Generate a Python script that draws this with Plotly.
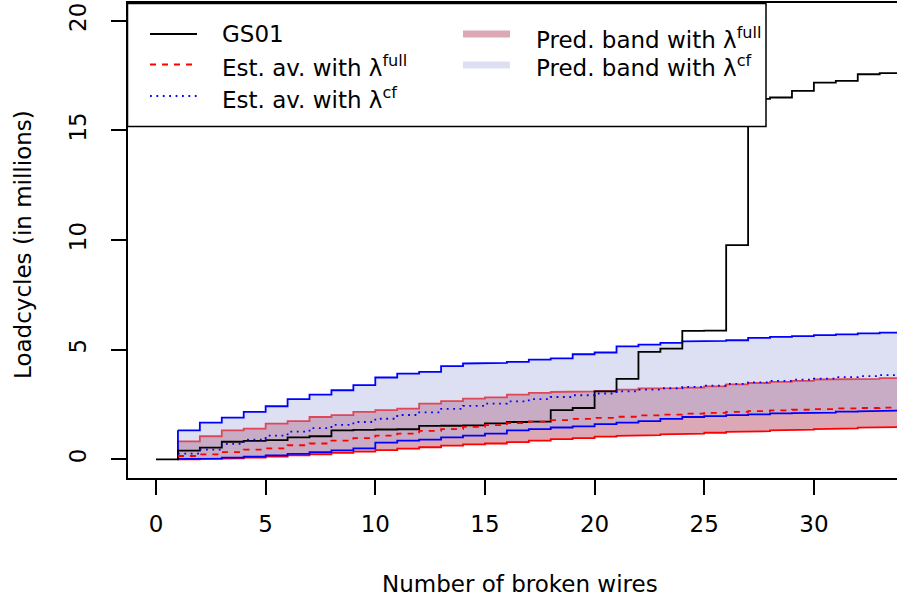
import plotly.graph_objects as go

# ---------------- data ----------------
wires = list(range(0, 35))
gs01 = [0.00, 0.40, 0.53, 0.80, 0.84, 0.87, 1.00, 1.05, 1.32, 1.34,
        1.36, 1.37, 1.52, 1.53, 1.55, 1.64, 1.70, 1.72, 2.24, 2.34,
        3.10, 3.67, 4.90, 5.05, 5.86, 5.87, 9.77, 16.44, 16.50, 16.80,
        17.18, 17.26, 17.56, 17.61, 17.61]

k = list(range(1, 35))
full_upper = [0.82, 1.05, 1.32, 1.40, 1.63, 1.74, 1.93, 2.01, 2.16, 2.24,
              2.31, 2.54, 2.65, 2.77, 2.82, 2.95, 3.03, 3.07, 3.10, 3.12,
              3.18, 3.23, 3.25, 3.27, 3.33, 3.42, 3.48, 3.53, 3.58, 3.64,
              3.65, 3.67, 3.70, 3.70]
full_lower = [0.00, 0.02, 0.04, 0.08, 0.12, 0.18, 0.23, 0.29, 0.35, 0.42,
              0.49, 0.55, 0.62, 0.68, 0.72, 0.78, 0.85, 0.92, 0.97, 1.03,
              1.07, 1.10, 1.14, 1.17, 1.21, 1.25, 1.28, 1.32, 1.35, 1.38,
              1.41, 1.44, 1.47, 1.47]
cf_upper = [1.32, 1.67, 1.90, 2.16, 2.42, 2.74, 2.95, 3.15, 3.38, 3.73,
            3.91, 3.99, 4.25, 4.37, 4.40, 4.44, 4.55, 4.60, 4.79, 4.87,
            5.15, 5.23, 5.31, 5.38, 5.40, 5.43, 5.54, 5.58, 5.62, 5.66,
            5.70, 5.74, 5.78, 5.80]
cf_lower = [0.02, 0.03, 0.08, 0.12, 0.18, 0.25, 0.33, 0.41, 0.50, 0.76,
            0.85, 0.90, 1.00, 1.08, 1.17, 1.32, 1.38, 1.45, 1.50, 1.60,
            1.67, 1.74, 1.84, 1.93, 1.97, 2.01, 2.05, 2.09, 2.11, 2.13,
            2.17, 2.19, 2.22, 2.22]
full_mean = [0.15, 0.22, 0.33, 0.44, 0.50, 0.64, 0.72, 0.85, 0.97, 1.08,
             1.17, 1.30, 1.38, 1.48, 1.56, 1.65, 1.72, 1.79, 1.84, 1.89,
             1.94, 2.00, 2.04, 2.08, 2.12, 2.16, 2.20, 2.23, 2.26, 2.29,
             2.32, 2.34, 2.36, 2.37]
cf_mean = [0.26, 0.44, 0.70, 0.90, 1.08, 1.26, 1.42, 1.57, 1.70, 1.85,
           2.02, 2.14, 2.30, 2.44, 2.54, 2.64, 2.74, 2.84, 2.92, 3.00,
           3.10, 3.18, 3.24, 3.30, 3.36, 3.44, 3.51, 3.58, 3.63, 3.68,
           3.75, 3.79, 3.84, 3.86]

x_ticks = [0, 5, 10, 15, 20, 25, 30]
y_ticks = [0, 5, 10, 15, 20]

legend_left = ["GS01", "Est. av. with λ<sup>full</sup>", "Est. av. with λ<sup>cf</sup>"]
legend_right = ["Pred. band with λ<sup>full</sup>", "Pred. band with λ<sup>cf</sup>"]

# ---------------- styles ----------------
FONT = "DejaVu Sans"
FS = 23
PINK = "rgb(220,168,181)"
LAV_RGBA = "rgba(170,178,222,0.4)"
LAV = "rgb(221,224,242)"
LW = 1.8

W, H = 897, 596
ML, MR, MT, MB = 128, 0, 3, 118
PW, PH = W - ML - MR, H - MT - MB


def px2x(p):
    return (p - ML) / PW


def py2y(p):
    return (H - MB - p) / PH


def steps(xs, ys):
    px, py = [], []
    for i in range(len(xs)):
        if i > 0:
            px.append(xs[i]); py.append(ys[i - 1])
        px.append(xs[i]); py.append(ys[i])
    return px, py


def band(xs, lo, up):
    ux, uy = steps(xs, up)
    lx, ly = steps(xs, lo)
    return ux + lx[::-1] + [ux[0]], uy + ly[::-1] + [uy[0]]


fig = go.Figure()

bx, by = band(k, full_lower, full_upper)
fig.add_trace(go.Scatter(x=bx, y=by, mode="lines", fill="toself", fillcolor=PINK,
                         line=dict(color="red", width=LW), hoverinfo="skip", showlegend=False))
bx, by = band(k, cf_lower, cf_upper)
fig.add_trace(go.Scatter(x=bx, y=by, mode="lines", fill="toself", fillcolor=LAV_RGBA,
                         line=dict(color="blue", width=LW), hoverinfo="skip", showlegend=False))
fig.add_trace(go.Scatter(x=wires, y=gs01, mode="lines", line=dict(color="black", width=LW, shape="hv"),
                         showlegend=False))
fig.add_trace(go.Scatter(x=k, y=full_mean, mode="lines",
                         line=dict(color="red", width=LW, shape="hv", dash="6px,6px"), showlegend=False))
fig.add_trace(go.Scatter(x=k, y=cf_mean, mode="lines",
                         line=dict(color="blue", width=LW, shape="hv", dash="1.8px,4.6px"), showlegend=False))

axis_common = dict(showgrid=False, zeroline=False, showline=True, linecolor="black", linewidth=1.5,
                   ticks="outside", ticklen=15, tickwidth=1.5, tickcolor="black",
                   tickfont=dict(family=FONT, size=FS, color="black"))

fig.update_xaxes(range=[-1.277, 33.79], tickvals=x_ticks, mirror=True, ticklabelstandoff=10,
                 **axis_common)
fig.update_yaxes(range=[-0.853, 20.81], tickvals=y_ticks, mirror=False, tickangle=-90,
                 ticklabelstandoff=16, **axis_common)

shapes = [dict(type="rect", xref="paper", yref="paper", x0=px2x(127.5), x1=px2x(766),
               y0=py2y(126.5), y1=py2y(3.5), fillcolor="white", line=dict(color="black", width=1.5),
               layer="above")]
# legend samples
shapes.append(dict(type="line", xref="paper", yref="paper", x0=px2x(150), x1=px2x(197),
                   y0=py2y(34), y1=py2y(34), line=dict(color="black", width=LW), layer="above"))
shapes.append(dict(type="line", xref="paper", yref="paper", x0=px2x(150), x1=px2x(197),
                   y0=py2y(64.5), y1=py2y(64.5), line=dict(color="red", width=LW, dash="6px,6px"),
                   layer="above"))
shapes.append(dict(type="line", xref="paper", yref="paper", x0=px2x(150), x1=px2x(197),
                   y0=py2y(96), y1=py2y(96), line=dict(color="blue", width=LW, dash="1.8px,4.6px"),
                   layer="above"))
shapes.append(dict(type="line", xref="paper", yref="paper", x0=px2x(463), x1=px2x(510),
                   y0=py2y(34), y1=py2y(34), line=dict(color=PINK, width=7), layer="above"))
shapes.append(dict(type="line", xref="paper", yref="paper", x0=px2x(463), x1=px2x(510),
                   y0=py2y(65), y1=py2y(65), line=dict(color=LAV, width=7), layer="above"))

tfont = dict(family=FONT, size=FS, color="black")
annotations = []
for txt, yy in zip(legend_left, [34, 66, 98]):
    annotations.append(dict(text=txt, xref="paper", yref="paper", x=px2x(220), y=py2y(yy),
                            xanchor="left", yanchor="middle", showarrow=False, font=tfont))
for txt, yy in zip(legend_right, [38, 66]):
    annotations.append(dict(text=txt, xref="paper", yref="paper", x=px2x(534), y=py2y(yy),
                            xanchor="left", yanchor="middle", showarrow=False, font=tfont))
annotations.append(dict(text="Number of broken wires", xref="paper", yref="paper",
                        x=px2x(520), y=py2y(584), xanchor="center", yanchor="middle",
                        showarrow=False, font=tfont))
annotations.append(dict(text="Loadcycles (in millions)", xref="paper", yref="paper",
                        x=px2x(23), y=py2y(244), xanchor="center", yanchor="middle",
                        textangle=-90, showarrow=False, font=tfont))

fig.update_layout(width=W, height=H, margin=dict(l=ML, r=MR, t=MT, b=MB, pad=0),
                  paper_bgcolor="white", plot_bgcolor="white", showlegend=False,
                  shapes=shapes, annotations=annotations,
                  font=dict(family=FONT, size=FS, color="black"))

fig.write_html("out.html", config={"displayModeBar": False},
               post_script="document.body.style.margin='0';document.body.style.overflow='hidden';")
